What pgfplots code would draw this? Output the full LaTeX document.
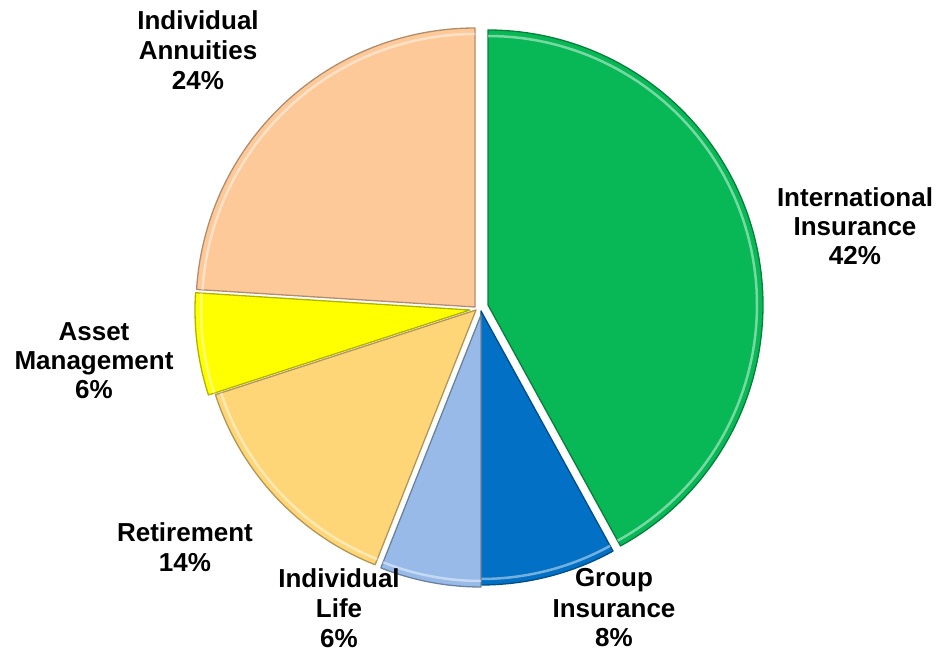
\documentclass[border=0pt]{standalone}
\usepackage{pgfplots}
\pgfplotsset{compat=1.18}
\usepackage{fontspec}
\setmainfont{Liberation Sans}
\definecolor{cIntl}{RGB}{8,184,86}
\definecolor{cGroup}{RGB}{2,112,196}
\definecolor{cLife}{RGB}{152,186,232}
\definecolor{cRet}{RGB}{254,214,120}
\definecolor{cAsset}{RGB}{255,255,0}
\definecolor{cAnn}{RGB}{254,201,153}
% shares (percent), in clockwise order from 12 o'clock
\def\pIntl{42}\def\pGroup{8}\def\pLife{6}\def\pRet{14}\def\pAsset{6}\def\pAnn{24}
\tikzset{lab/.style={font=\fontsize{26}{30}\selectfont\bfseries, anchor=base, inner sep=0pt}}
% #1 start angle, #2 end angle, #3 dx, #4 dy, #5 colour, #6 radius
\newcommand{\slice}[6]{%
  \pgfmathsetmacro{\cx}{478+#3}\pgfmathsetmacro{\cy}{346+#4}%
  \pgfmathsetmacro{\Ri}{#6-6}%
  \edef\temp{\noexpand\addplot[fill=#5, draw=#5!70!black, line width=1.3pt, line join=round,
    domain=#1:#2, samples=90, variable=\noexpand\t]
    ({\cx+#6*cos(\noexpand\t)},{\cy+#6*sin(\noexpand\t)}) -- (axis cs:\cx,\cy) -- cycle;
  \noexpand\addplot[draw=white, opacity=0.45, line width=2.5pt,
    domain=#1:#2, samples=90, variable=\noexpand\t]
    ({\cx+\Ri*cos(\noexpand\t)},{\cy+\Ri*sin(\noexpand\t)});}%
  \temp
}
\begin{document}
\begin{tikzpicture}
\pgfmathsetmacro{\aA}{90}
\pgfmathsetmacro{\aB}{\aA-3.6*\pIntl}
\pgfmathsetmacro{\aC}{\aB-3.6*\pGroup}
\pgfmathsetmacro{\aD}{\aC-3.6*\pLife}
\pgfmathsetmacro{\aE}{\aD-3.6*\pRet}
\pgfmathsetmacro{\aF}{\aE-3.6*\pAsset}
\pgfmathsetmacro{\aG}{\aF-3.6*\pAnn}
\begin{axis}[x=1pt, y=1pt, xmin=0, xmax=937, ymin=0, ymax=653,
  hide axis, clip=false]
\path (rel axis cs:0,0) rectangle (rel axis cs:1,1);
\slice{\aA}{\aB}{10}{2}{cIntl}{275}
\slice{\aB}{\aC}{3}{-4}{cGroup}{274}
\slice{\aC}{\aD}{3}{-8}{cLife}{272}
\slice{\aD}{\aE}{-2}{-3}{cRet}{274}
\slice{\aE}{\aF}{-8}{-3}{cAsset}{275}
\slice{\aF}{\aG}{-3}{0}{cAnn}{279}
% labels
\node[lab] at (axis cs:198,623) {Individual};
\node[lab] at (axis cs:198,593) {Annuities};
\node[lab] at (axis cs:198,563) {24\%};
\node[lab] at (axis cs:855,446) {International};
\node[lab] at (axis cs:855,417) {Insurance};
\node[lab] at (axis cs:855,388) {42\%};
\node[lab] at (axis cs:94,312) {Asset};
\node[lab] at (axis cs:94,283) {Management};
\node[lab] at (axis cs:94,254) {6\%};
\node[lab] at (axis cs:185,111) {Retirement};
\node[lab] at (axis cs:185,81) {14\%};
\node[lab] at (axis cs:339,65) {Individual};
\node[lab] at (axis cs:339,35) {Life};
\node[lab] at (axis cs:339,5) {6\%};
\node[lab] at (axis cs:614,66) {Group};
\node[lab] at (axis cs:614,35) {Insurance};
\node[lab] at (axis cs:614,6) {8\%};
\end{axis}
\end{tikzpicture}
\end{document}
